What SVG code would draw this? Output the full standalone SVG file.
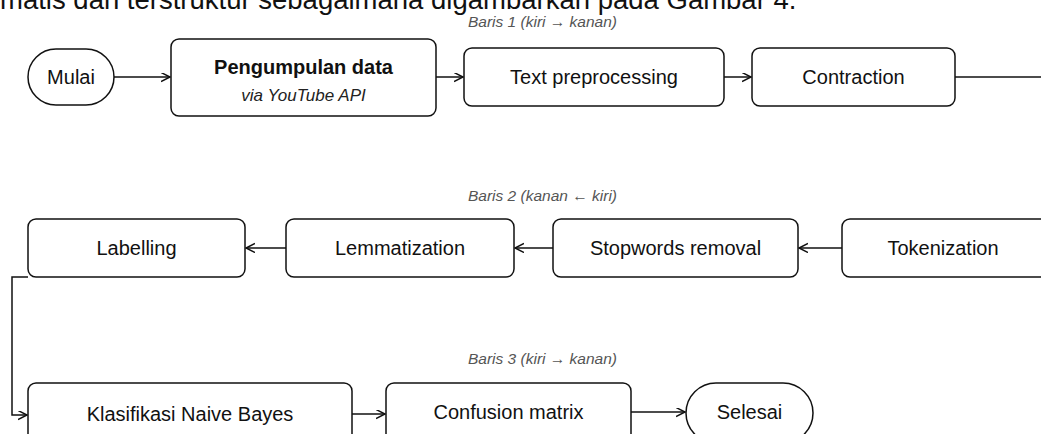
<svg xmlns="http://www.w3.org/2000/svg" width="1041" height="434" viewBox="0 0 1041 434">
<style>
  .box { fill: #fff; stroke: #111; stroke-width: 1.5; }
  .t { font-family: "Liberation Sans", Arial, sans-serif; font-size: 20px; fill: #111; text-anchor: middle; dominant-baseline: central; }
  .b { font-weight: bold; }
  .sub { font-family: "Liberation Sans", Arial, sans-serif; font-size: 17px; font-style: italic; fill: #222; text-anchor: middle; dominant-baseline: central; }
  .row { font-family: "Liberation Sans", Arial, sans-serif; font-size: 15.5px; font-style: italic; fill: #555; text-anchor: middle; dominant-baseline: central; }
  .top { font-family: "Liberation Sans", Arial, sans-serif; font-size: 27.5px; fill: #111; }
  .c { fill: none; stroke: #111; stroke-width: 1.5; }
</style>
<defs>
  <marker id="arr" markerUnits="userSpaceOnUse" markerWidth="12" markerHeight="12" refX="9" refY="4.5" orient="auto">
    <path d="M0,0 L9,4.5 L0,9" fill="none" stroke="#111" stroke-width="1.5"/>
  </marker>
</defs>
<rect width="1041" height="434" fill="#fff"/>
<text class="top" x="0" y="9">matis dan terstruktur sebagaimana digambarkan pada Gambar 4.</text>

<text class="row" x="542.5" y="21">Baris 1 (kiri → kanan)</text>
<text class="row" x="542.5" y="195">Baris 2 (kanan ← kiri)</text>
<text class="row" x="542.5" y="358">Baris 3 (kiri → kanan)</text>

<g id="connectors">
  <path class="c" d="M114,77 H170" marker-end="url(#arr)"/>
  <path class="c" d="M436,77 H463" marker-end="url(#arr)"/>
  <path class="c" d="M724,77 H751" marker-end="url(#arr)"/>
  <path class="c" d="M955,77 H1045"/>
  <path class="c" d="M842,248 H799" marker-end="url(#arr)"/>
  <path class="c" d="M553,248 H515" marker-end="url(#arr)"/>
  <path class="c" d="M286,248 H246" marker-end="url(#arr)"/>
  <path class="c" d="M28,277 H12 V415 H27" marker-end="url(#arr)"/>
  <path class="c" d="M352,414 H385" marker-end="url(#arr)"/>
  <path class="c" d="M631,412 H685" marker-end="url(#arr)"/>
</g>

<g id="mulai">
  <rect class="box" x="28" y="49" width="86" height="56" rx="28"/>
  <text class="t" x="71" y="77">Mulai</text>
</g>
<g id="pengumpulan">
  <rect class="box" x="171" y="39" width="265" height="77" rx="8"/>
  <text class="t b" x="303.5" y="67">Pengumpulan data</text>
  <text class="sub" x="303.5" y="95">via YouTube API</text>
</g>
<g id="preprocessing">
  <rect class="box" x="464" y="48" width="260" height="58" rx="8"/>
  <text class="t" x="594" y="77">Text preprocessing</text>
</g>
<g id="contraction">
  <rect class="box" x="752" y="48" width="203" height="58" rx="8"/>
  <text class="t" x="853.5" y="77">Contraction</text>
</g>
<g id="tokenization">
  <rect class="box" x="842" y="219" width="210" height="58" rx="8"/>
  <text class="t" x="943" y="248">Tokenization</text>
</g>
<g id="stopwords">
  <rect class="box" x="553" y="219" width="245" height="58" rx="8"/>
  <text class="t" x="675.5" y="248">Stopwords removal</text>
</g>
<g id="lemmatization">
  <rect class="box" x="286" y="219" width="228" height="58" rx="8"/>
  <text class="t" x="400" y="248">Lemmatization</text>
</g>
<g id="labelling">
  <rect class="box" x="28" y="219" width="217" height="58" rx="8"/>
  <text class="t" x="136.5" y="248">Labelling</text>
</g>
<g id="klasifikasi">
  <rect class="box" x="28" y="383" width="324" height="70" rx="8"/>
  <text class="t" x="190" y="414">Klasifikasi Naive Bayes</text>
</g>
<g id="confusion">
  <rect class="box" x="386" y="383" width="245" height="70" rx="8"/>
  <text class="t" x="508.5" y="412">Confusion matrix</text>
</g>
<g id="selesai">
  <rect class="box" x="686" y="383" width="127" height="60" rx="30"/>
  <text class="t" x="749.5" y="412">Selesai</text>
</g>
</svg>
